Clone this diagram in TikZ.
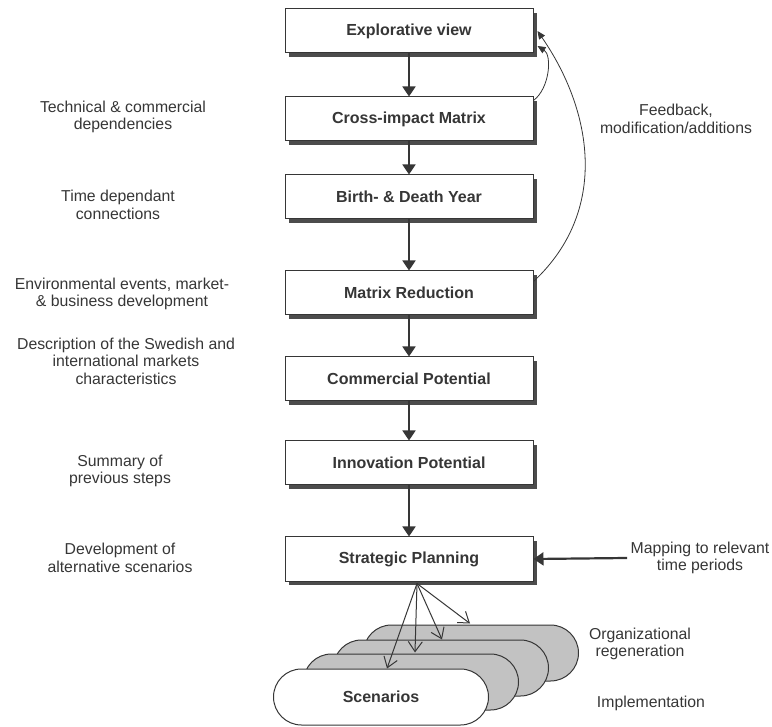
\documentclass[tikz,border=0pt]{standalone}
\usepackage{fontspec}
\setmainfont{Liberation Sans}
\usetikzlibrary{positioning,calc,arrows.meta,shadows}
\definecolor{inkgray}{HTML}{363636}
\definecolor{pillgray}{HTML}{C2C2C2}

\begin{document}
\begin{tikzpicture}[x=1pt,y=1pt,font=\fontsize{15.8}{17.5}\selectfont,
  stage/.style={draw=inkgray,line width=1pt,fill=white,minimum width=248pt,minimum height=44pt,
    font=\fontsize{16}{18}\selectfont\bfseries,text=inkgray,
    general shadow={fill=gray!60!black,shadow xshift=4pt,shadow yshift=-4pt}},
  note/.style={align=center,text=inkgray},
  flow/.style={draw=inkgray,line width=1.8pt,-{Triangle[width=13pt,length=10pt]}},
  back/.style={draw=inkgray,line width=0.8pt,-{Triangle[width=7pt,length=8pt]}},
  fan/.style={draw=inkgray,line width=1pt,-{Straight Barb[width=14pt,length=10pt]}},
  pill/.style={draw=inkgray,line width=1pt,fill=pillgray,rounded corners=28pt,
    minimum width=215pt,minimum height=56pt}]
  \useasboundingbox (0,0) rectangle (772,-727);
  % main chain of steps
  \node[stage] (explore) at (409,-31) {Explorative view};
  \node[stage] (cross)   at (409,-119) {Cross-impact Matrix};
  \node[stage] (birth)   at (409,-197) {Birth- \& Death Year};
  \node[stage] (reduct)  at (409,-293) {Matrix Reduction};
  \node[stage] (commerc) at (409,-379) {Commercial Potential};
  \node[stage] (innov)   at (409,-463) {Innovation Potential};
  \node[stage] (plan)    at (409,-559) {Strategic Planning};
  \draw[flow] (explore) -- (cross);
  \draw[flow] (cross) -- (birth);
  \draw[flow] (birth) -- (reduct);
  \draw[flow] (reduct) -- (commerc);
  \draw[flow] (commerc) -- (innov);
  \draw[flow] (innov) -- (plan);
  % notes on the left
  \node[note] (tech)    at (123,-117) {Technical \& commercial\\dependencies};
  \node[note] (timedep) at (118,-205) {Time dependant\\connections};
  \node[note] (env)     at (122,-294) {Environmental events, market-\\\& business development};
  \node[note] (descr)   at (126,-361) {Description of the Swedish and\\international markets\\characteristics};
  \node[note] (summ)    at (120,-471) {Summary of\\previous steps};
  \node[note] (devel)   at (120,-558) {Development of\\alternative scenarios};
  % feedback loops
  \node[note] (feedb) at (676,-119) {Feedback,\\modification/additions};
  \draw[back] ($(cross.north east)+(0,-4)$) .. controls (550,-88) and (552,-55) .. ($(explore.east)+(4,-15)$);
  \draw[back] ($(reduct.north east)+(0,-11)$) .. controls (610,-210) and (592,-110) .. ($(explore.east)+(4,0)$);
  % mapping input
  \node[note] (mapping) at (700,-558) {Mapping to relevant\\time periods};
  \draw[flow,line width=2.2pt] (mapping.west) -- (plan.east);
  % scenario stack
  \node[pill] (scen4) at (471,-653) {};
  \node[pill] (scen3) at (441,-668) {};
  \node[pill] (scen2) at (411,-682) {};
  \node[pill,fill=white,font=\fontsize{16}{18}\selectfont\bfseries,text=inkgray] (scen1) at (381,-697) {Scenarios};
  \coordinate (fanroot) at ($(plan.south)+(8,-2)$);
  \draw[fan] (fanroot) -- ($(scen1.north)+(6,0)$);
  \draw[fan] (fanroot) -- ($(scen2.north)+(4,1)$);
  \draw[fan] (fanroot) -- ($(scen3.north)+(1,0)$);
  \draw[fan] (fanroot) -- ($(scen4.north)+(-1,1)$);
  \node[note] (orgreg) at (640,-644) {Organizational\\regeneration};
  \node[note] (implem) at (651,-703) {Implementation};
\end{tikzpicture}
\end{document}
